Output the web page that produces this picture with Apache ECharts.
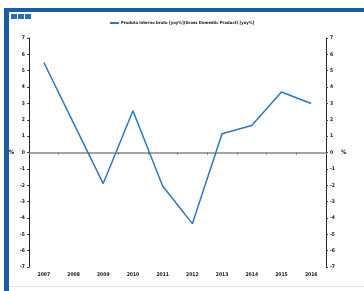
<!DOCTYPE html>
<html>
<head>
<meta charset="utf-8">
<script src="https://cdn.jsdelivr.net/npm/echarts@6/dist/echarts.min.js"></script>
<style>
  html, body { margin: 0; padding: 0; background: #fff; }
  #chart { width: 364px; height: 291px; }
</style>
</head>
<body>
<div id="chart"></div>
<script>
// values
const years = ['2007', '2008', '2009', '2010', '2011', '2012', '2013', '2014', '2015', '2016']
const gdp = [5.5, 1.8, -1.9, 2.55, -2.05, -4.35, 1.15, 1.65, 3.7, 3.0]
const seriesName = 'Produto interno bruto [yoy%](Gross Domestic Product) [yoy%]'

const font = '"DejaVu Sans Condensed", "Liberation Sans", sans-serif'
const txt = { fontFamily: font, fontSize: 5, fontWeight: 'bold', color: '#111' }

const chart = echarts.init(document.getElementById('chart'))

function yAxis (pos) {
  return {
    type: 'value',
    position: pos,
    min: -7,
    max: 7,
    interval: 1,
    name: '%',
    nameLocation: 'middle',
    nameGap: 12,
    nameRotate: 0,
    nameTextStyle: { ...txt, fontSize: 6 },
    axisLine: { show: true, lineStyle: { color: '#222', width: 1 } },
    axisTick: { show: true, length: 2, inside: false, lineStyle: { color: '#444' } },
    axisLabel: { ...txt, margin: 4 },
    splitLine: { show: false }
  }
}

chart.setOption({
  animation: false,
  graphic: [
    { type: 'rect', shape: { x: 4, y: 8, width: 360, height: 4 }, style: { fill: '#1b5e9e' } },
    { type: 'rect', shape: { x: 4, y: 8, width: 5, height: 283 }, style: { fill: '#1b5e9e' } },
    { type: 'rect', shape: { x: 9, y: 286, width: 355, height: 1 }, style: { fill: '#d6e8f2' } },
    { type: 'rect', shape: { x: 11, y: 14, width: 6, height: 5 }, style: { fill: '#2a6db0' } },
    { type: 'rect', shape: { x: 18, y: 14, width: 6, height: 5 }, style: { fill: '#2a6db0' } },
    { type: 'rect', shape: { x: 25, y: 14, width: 6, height: 5 }, style: { fill: '#2a6db0' } }
  ],
  legend: {
    top: 21,
    left: 110,
    padding: 0,
    itemWidth: 9,
    itemHeight: 2,
    itemGap: 2,
    icon: 'rect',
    textStyle: { ...txt, fontSize: 4.2, padding: [0, 0, 0, -3] },
    data: [seriesName]
  },
  grid: { left: 29, right: 38, top: 38, bottom: 24, containLabel: false },
  xAxis: [
    {
      type: 'category',
      data: years,
      boundaryGap: true,
      axisLine: { show: true, onZero: true, lineStyle: { color: '#888', width: 1.5 } },
      axisTick: { show: true, interval: 0, length: 2, inside: false, lineStyle: { color: '#666' } },
      axisLabel: { show: false },
      splitLine: { show: false }
    },
    {
      type: 'category',
      data: years,
      position: 'bottom',
      boundaryGap: true,
      axisLine: { show: false, onZero: false },
      axisTick: { show: false },
      axisLabel: { ...txt, margin: 5, interval: 0 },
      splitLine: { show: false }
    }
  ],
  yAxis: [yAxis('left'), yAxis('right')],
  series: [{
    name: seriesName,
    type: 'line',
    data: gdp,
    symbol: 'none',
    lineStyle: { color: '#2e77b8', width: 1.5 },
    itemStyle: { color: '#2e77b8' }
  }]
})
</script>
</body>
</html>
